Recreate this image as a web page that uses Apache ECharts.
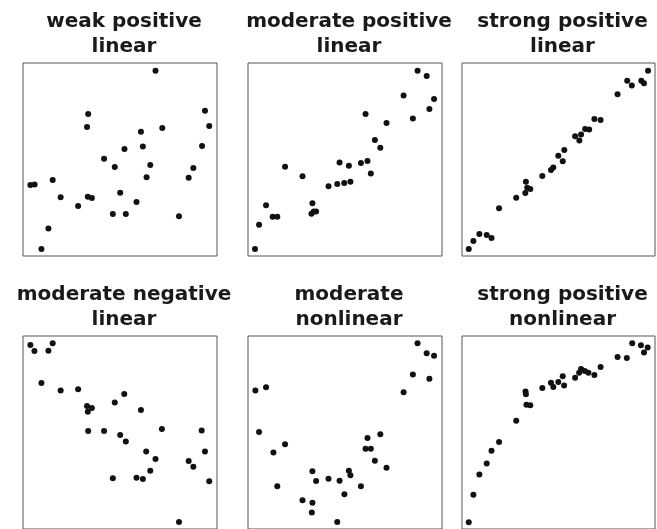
<!DOCTYPE html>
<html><head><meta charset="utf-8">
<script src="https://cdn.jsdelivr.net/npm/echarts@6/dist/echarts.min.js"></script>
<style>html,body{margin:0;padding:0;background:#fff}#c{width:657px;height:529px}</style>
</head><body><div id="c"></div>
<script>
const panelTitles = [
  'weak positive\nlinear',
  'moderate positive\nlinear',
  'strong positive\nlinear',
  'moderate negative\nlinear',
  'moderate\nnonlinear',
  'strong positive\nnonlinear'
];

const weakPositiveLinear = [
  [68.3,96.0],[33.6,73.6],[93.8,75.3],[33.0,66.8],[71.8,66.3],[96.0,67.4],[60.8,64.4],[61.8,56.8],
  [52.3,55.4],[92.3,57.0],[41.8,50.4],[47.3,46.1],[65.6,47.2],[87.8,45.6],[63.7,40.8],[85.4,40.6],
  [15.3,39.4],[3.8,36.8],[6.0,37.0],[19.4,30.4],[33.4,30.7],[35.5,30.1],[50.1,32.8],[58.5,28.0],
  [28.4,25.9],[46.3,21.8],[53.0,21.8],[80.4,20.6],[13.1,14.2],[9.5,3.6]
];

const moderatePositiveLinear = [
  [87.4,96.0],[92.1,93.3],[80.2,83.1],[95.9,81.3],[93.5,76.2],[60.6,73.6],[85.0,71.3],[71.4,68.9],
  [65.4,60.1],[68.2,56.1],[19.1,46.3],[47.2,48.5],[52.0,46.8],[58.2,48.2],[61.6,49.2],[63.3,42.7],
  [28.1,41.3],[41.5,36.1],[46.0,37.3],[49.6,37.8],[52.8,38.5],[9.3,26.3],[33.2,27.3],[12.7,20.4],
  [15.1,20.4],[32.7,21.9],[33.9,23.0],[35.1,23.0],[5.7,16.2],[3.6,3.6]
];

const strongPositiveLinear = [
  [96.4,96.0],[85.6,90.8],[88.0,88.4],[92.9,90.8],[94.3,89.5],[80.6,83.8],[68.6,71.0],[71.8,70.5],
  [63.8,65.8],[65.9,65.5],[58.6,62.0],[61.7,62.9],[60.8,59.8],[53.0,54.9],[49.9,52.0],[52.2,49.1],
  [47.3,45.9],[46.1,44.6],[41.6,41.5],[33.1,38.5],[33.8,35.4],[35.4,34.7],[32.8,32.6],[28.1,30.2],
  [19.2,24.7],[9.0,11.4],[12.8,10.9],[15.3,9.3],[5.9,7.8],[3.5,3.6]
];

const moderateNegativeLinear = [
  [3.8,95.3],[5.9,92.2],[13.1,92.4],[15.3,96.2],[9.5,75.6],[19.4,71.7],[28.4,72.4],[33.0,63.7],
  [35.5,62.7],[33.4,60.8],[47.3,65.6],[52.2,69.9],[60.8,61.7],[33.6,50.8],[41.8,50.8],[50.1,48.7],
  [53.0,45.4],[71.6,51.8],[92.1,51.1],[63.5,40.1],[68.3,36.3],[93.8,40.1],[85.4,35.2],[87.8,32.3],
  [65.6,30.2],[46.3,26.3],[58.5,26.6],[61.8,25.9],[96.0,24.7],[80.4,3.6]
];

const moderateNonlinear = [
  [87.4,96.2],[92.1,91.0],[95.9,89.8],[85.0,80.1],[93.5,77.9],[80.2,70.8],[3.8,71.7],[9.3,73.4],
  [5.7,50.3],[19.1,43.9],[13.1,39.7],[68.2,49.1],[61.6,47.2],[60.6,41.6],[63.3,41.6],[65.4,35.4],
  [71.4,31.8],[15.1,22.1],[33.2,29.9],[35.1,24.9],[41.5,26.1],[47.2,25.0],[52.0,30.2],[52.8,27.8],
  [58.2,22.1],[49.7,18.0],[28.1,14.9],[33.2,13.6],[32.9,8.5],[46.0,3.6]
];

const strongPositiveNonlinear = [
  [88.2,96.2],[92.7,95.2],[96.2,94.0],[94.3,91.5],[80.6,89.1],[85.4,88.6],[71.8,83.9],[61.7,82.9],
  [60.7,81.0],[63.6,81.9],[65.5,81.0],[68.6,79.8],[58.6,78.4],[52.2,79.1],[49.9,76.2],[52.9,74.3],
  [46.1,75.8],[47.3,73.6],[41.6,73.1],[32.9,71.3],[33.1,69.8],[33.4,64.4],[35.4,64.1],[28.1,56.1],
  [19.2,45.1],[15.3,40.6],[12.8,33.9],[9.0,28.3],[5.9,17.8],[3.5,3.5]
];

const panelData = [
  weakPositiveLinear, moderatePositiveLinear, strongPositiveLinear,
  moderateNegativeLinear, moderateNonlinear, strongPositiveNonlinear
];

const gridBoxes = [
  {left: 23, top: 63, width: 194, height: 193},
  {left: 248, top: 63, width: 194, height: 193},
  {left: 462, top: 63, width: 193, height: 193},
  {left: 23, top: 336, width: 194, height: 194},
  {left: 248, top: 336, width: 194, height: 194},
  {left: 462, top: 336, width: 193, height: 194}
];

const chart = echarts.init(document.getElementById('c'), null, {renderer: 'canvas'});

const option = {
  animation: false,
  backgroundColor: '#ffffff',
  title: gridBoxes.map((g, i) => ({
    text: panelTitles[i],
    left: g.left + g.width / 2 - 1,
    top: g.top - 59,
    textAlign: 'center',
    textStyle: {
      fontFamily: 'DejaVu Sans',
      fontWeight: 'bold',
      fontSize: 20,
      lineHeight: 25,
      color: '#1a1a1a'
    }
  })),
  grid: gridBoxes.map(g => ({
    left: g.left, top: g.top, width: g.width, height: g.height,
    show: true, borderColor: '#555555', borderWidth: 1, backgroundColor: 'transparent',
    containLabel: false
  })),
  xAxis: gridBoxes.map((g, i) => ({
    type: 'value', gridIndex: i, min: 0, max: 100, show: false, splitLine: {show: false}
  })),
  yAxis: gridBoxes.map((g, i) => ({
    type: 'value', gridIndex: i, min: 0, max: 100, show: false, splitLine: {show: false}
  })),
  series: panelData.map((d, i) => ({
    type: 'scatter', xAxisIndex: i, yAxisIndex: i, data: d,
    symbol: 'circle', symbolSize: 6,
    itemStyle: {color: '#111111', opacity: 1}
  }))
};

chart.setOption(option);
</script>
</body></html>
